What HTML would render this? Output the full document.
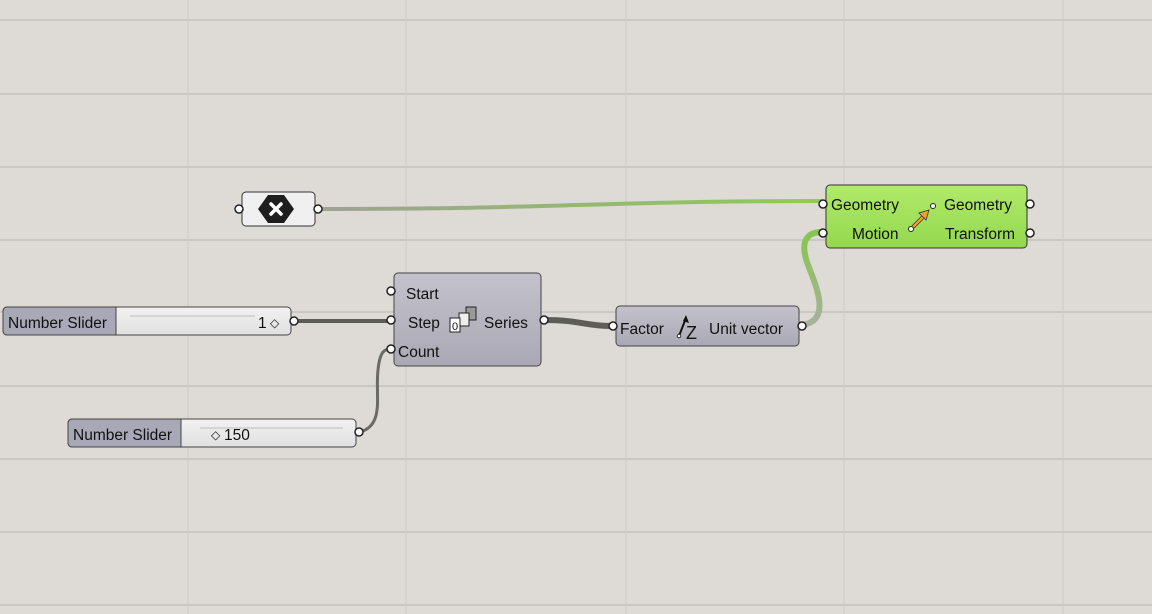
<!DOCTYPE html>
<html><head><meta charset="utf-8"><style>
html,body{margin:0;padding:0;background:#dedad6;}
svg{display:block;font-family:"Liberation Sans",sans-serif;}
text{font-size:15.5px;}
</style></head><body>
<svg width="1152" height="614" viewBox="0 0 1152 614" xmlns="http://www.w3.org/2000/svg">
<defs>
<linearGradient id="gr" x1="0" y1="0" x2="0" y2="1"><stop offset="0" stop-color="#c3c2cc"/><stop offset="1" stop-color="#a9a8b4"/></linearGradient>
<linearGradient id="gg" x1="0" y1="0" x2="0" y2="1"><stop offset="0" stop-color="#b0ea6a"/><stop offset="1" stop-color="#94d84e"/></linearGradient>
<linearGradient id="sl" x1="0" y1="0" x2="0" y2="1"><stop offset="0" stop-color="#f2f2f2"/><stop offset="1" stop-color="#e0e0e0"/></linearGradient>
<linearGradient id="w1" x1="0" y1="0" x2="1" y2="0"><stop offset="0" stop-color="#9ea296"/><stop offset="1" stop-color="#8ccc54"/></linearGradient>
<linearGradient id="w2" x1="0" y1="1" x2="0" y2="0"><stop offset="0" stop-color="#a9b19c"/><stop offset="1" stop-color="#84c64c"/></linearGradient>
</defs>
<g stroke="#cbc7c3" stroke-width="2">
<line x1="0" y1="20" x2="1152" y2="20"/><line x1="0" y1="94" x2="1152" y2="94"/><line x1="0" y1="167" x2="1152" y2="167"/><line x1="0" y1="240" x2="1152" y2="240"/><line x1="0" y1="312" x2="1152" y2="312"/><line x1="0" y1="386" x2="1152" y2="386"/><line x1="0" y1="459" x2="1152" y2="459"/><line x1="0" y1="532" x2="1152" y2="532"/><line x1="0" y1="605" x2="1152" y2="605"/>
</g>
<g stroke="#cfcbc7" stroke-width="1">
<line x1="188" y1="0" x2="188" y2="614"/><line x1="406" y1="0" x2="406" y2="614"/><line x1="626" y1="0" x2="626" y2="614"/><line x1="844" y1="0" x2="844" y2="614"/><line x1="1063" y1="0" x2="1063" y2="614"/>
</g>
<path d="M318 209 C560 209 600 201 822 201" stroke="url(#w1)" stroke-width="4" fill="none"/>
<path d="M294 321 L390 321" stroke="#5d5d58" stroke-width="4" fill="none"/>
<path d="M360 432 C385 425 375 395 378 370 C380 350 385 349 392 349" stroke="#6a6b64" stroke-width="3" fill="none"/>
<path d="M545 320 C580 320 585 326 612 326" stroke="#5d5d58" stroke-width="6" fill="none"/>
<path d="M803 325 C830 320 818 290 808 265 C798 238 810 232 822 232" stroke="url(#w2)" stroke-width="6" fill="none"/>
<rect x="242" y="192" width="73" height="34" rx="4" fill="#f0f0f0" stroke="#333" stroke-width="1"/>
<circle cx="239" cy="209" r="4" fill="#fff" stroke="#222" stroke-width="1.5"/>
<circle cx="318" cy="209" r="4" fill="#fff" stroke="#222" stroke-width="1.5"/>
<polygon points="268,195 284,195 294,209 284,223 268,223 258,209" fill="#1e1e1e"/>
<path d="M271 204 L281 214 M281 204 L271 214" stroke="#fff" stroke-width="3.5" stroke-linecap="round"/>
<rect x="3" y="307" width="288" height="28" rx="4" fill="url(#sl)" stroke="#444" stroke-width="1"/>
<path d="M7 307 H116 V335 H7 A4 4 0 0 1 3 331 V311 A4 4 0 0 1 7 307Z" fill="#a9a8b6" stroke="#444"/>
<text x="8" y="328" fill="#111">Number Slider</text>
<line x1="130" y1="316" x2="255" y2="316" stroke="#bbb"/>
<text x="258" y="328" fill="#111">1</text>
<text x="270" y="327" font-size="12" fill="#111" style="font-size:12px">◇</text>
<circle cx="294" cy="321" r="4" fill="#fff" stroke="#222" stroke-width="1.5"/>
<rect x="68" y="419" width="288" height="28" rx="4" fill="url(#sl)" stroke="#444" stroke-width="1"/>
<path d="M72 419 H181 V447 H72 A4 4 0 0 1 68 443 V423 A4 4 0 0 1 72 419Z" fill="#a9a8b6" stroke="#444"/>
<text x="73" y="440" fill="#111">Number Slider</text>
<line x1="200" y1="428" x2="343" y2="428" stroke="#bbb"/>
<text x="211" y="439" fill="#111" style="font-size:12px">◇</text>
<text x="224" y="440" fill="#111">150</text>
<circle cx="359" cy="432" r="4" fill="#fff" stroke="#222" stroke-width="1.5"/>
<rect x="394" y="273" width="147" height="93" rx="4" fill="url(#gr)" stroke="#444"/>
<circle cx="391" cy="291" r="4" fill="#fff" stroke="#222" stroke-width="1.5"/>
<circle cx="391" cy="320" r="4" fill="#fff" stroke="#222" stroke-width="1.5"/>
<circle cx="391" cy="349" r="4" fill="#fff" stroke="#222" stroke-width="1.5"/>
<circle cx="544" cy="320" r="4" fill="#fff" stroke="#222" stroke-width="1.5"/>
<text x="406" y="299" fill="#111">Start</text>
<text x="408" y="328" fill="#111">Step</text>
<text x="398" y="357" fill="#111">Count</text>
<text x="484" y="328" fill="#111">Series</text>
<rect x="466" y="307" width="10" height="13" fill="#999" stroke="#222"/>
<rect x="459" y="313" width="10" height="13" fill="#eee" stroke="#222"/>
<rect x="450" y="318" width="10" height="14" fill="#fff" stroke="#222"/>
<text x="452" y="330" fill="#111" style="font-size:11px">0</text>
<rect x="616" y="306" width="183" height="40" rx="4" fill="url(#gr)" stroke="#444"/>
<circle cx="613" cy="326" r="4" fill="#fff" stroke="#222" stroke-width="1.5"/>
<circle cx="802" cy="326" r="4" fill="#fff" stroke="#222" stroke-width="1.5"/>
<text x="620" y="334" fill="#111">Factor</text>
<path d="M679 336 L686 318" stroke="#111" stroke-width="2"/><polygon points="686,315 689,323 683,321" fill="#111"/>
<circle cx="679" cy="336" r="1.8" fill="#fff" stroke="#111" stroke-width="0.8"/>
<text x="686" y="339" fill="#111" style="font-size:18px">Z</text>
<text x="709" y="334" fill="#111">Unit vector</text>
<rect x="826" y="185" width="201" height="63" rx="4" fill="url(#gg)" stroke="#333"/>
<circle cx="823" cy="204" r="4" fill="#fff" stroke="#222" stroke-width="1.5"/>
<circle cx="823" cy="233" r="4" fill="#fff" stroke="#222" stroke-width="1.5"/>
<circle cx="1030" cy="204" r="4" fill="#fff" stroke="#222" stroke-width="1.5"/>
<circle cx="1030" cy="233" r="4" fill="#fff" stroke="#222" stroke-width="1.5"/>
<text x="831" y="210" fill="#111">Geometry</text>
<text x="852" y="239" fill="#111">Motion</text>
<text x="944" y="210" fill="#111">Geometry</text>
<text x="945" y="239" fill="#111">Transform</text>
<path d="M913 227 L926 214" stroke="#333" stroke-width="4"/><path d="M913 227 L926 214" stroke="#f0a030" stroke-width="2.5"/>
<polygon points="929,210 919,213 926,220" fill="#f0a030" stroke="#333" stroke-width="0.8"/>
<circle cx="911" cy="229" r="2.5" fill="#fff" stroke="#222"/>
<circle cx="933" cy="206" r="2.5" fill="#fff" stroke="#222"/>
</svg>
</body></html>
